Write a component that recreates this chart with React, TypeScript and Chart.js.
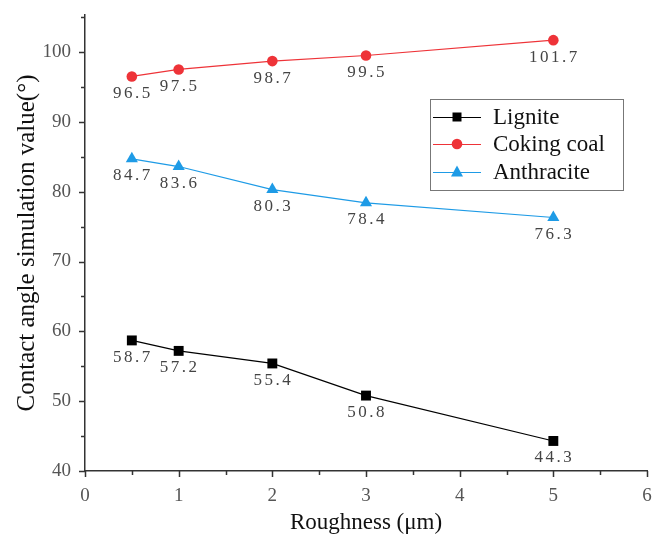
import React, { useEffect, useRef } from "react";
import { Chart, registerables } from "chart.js";

Chart.register(...registerables);

const roughness = [0.5, 1, 2, 3, 5];
const lignite = [58.7, 57.2, 55.4, 50.8, 44.3];
const cokingCoal = [96.5, 97.5, 98.7, 99.5, 101.7];
const anthracite = [84.7, 83.6, 80.3, 78.4, 76.3];
const seriesNames = ["Lignite", "Coking coal", "Anthracite"];
const seriesColors = ["#000000", "#ee3338", "#1e9be6"];
const seriesMarkers = ["rect", "circle", "triangle"];
const xTicks = [0, 1, 2, 3, 4, 5, 6];
const xMinorTicks = [0.5, 1.5, 2.5, 3.5, 4.5, 5.5];
const yTicks = [40, 50, 60, 70, 80, 90, 100];
const yMinorTicks = [45, 55, 65, 75, 85, 95, 105];

const SERIF = "'Liberation Serif', 'Times New Roman', serif";

function drawMarker(ctx: CanvasRenderingContext2D, kind: string, x: number, y: number, color: string) {
  ctx.save();
  ctx.fillStyle = color;
  ctx.beginPath();
  if (kind === "rect") {
    ctx.rect(x - 4.5, y - 4.5, 9, 9);
  } else if (kind === "circle") {
    ctx.arc(x, y, 5.3, 0, Math.PI * 2);
  } else {
    ctx.moveTo(x, y - 6.5);
    ctx.lineTo(x + 6, y + 4.5);
    ctx.lineTo(x - 6, y + 4.5);
    ctx.closePath();
  }
  ctx.fill();
  ctx.restore();
}

const overlayPlugin = {
  id: "overlay",
  afterDraw(chart: any) {
    const ctx: CanvasRenderingContext2D = chart.ctx;
    const xs = chart.scales.x;
    const ys = chart.scales.y;
    const area = chart.chartArea;
    ctx.save();
    // tick marks
    ctx.strokeStyle = "#333";
    ctx.lineWidth = 1.5;
    ctx.beginPath();
    xTicks.forEach((v) => {
      const px = Math.round(xs.getPixelForValue(v)) + 0.5;
      ctx.moveTo(px, area.bottom);
      ctx.lineTo(px, area.bottom + 6);
    });
    xMinorTicks.forEach((v) => {
      const px = Math.round(xs.getPixelForValue(v)) + 0.5;
      ctx.moveTo(px, area.bottom);
      ctx.lineTo(px, area.bottom + 4);
    });
    yTicks.forEach((v) => {
      const py = Math.round(ys.getPixelForValue(v)) + 0.5;
      ctx.moveTo(area.left, py);
      ctx.lineTo(area.left - 6, py);
    });
    yMinorTicks.forEach((v) => {
      if (v > ys.max) return;
      const py = Math.round(ys.getPixelForValue(v)) + 0.5;
      ctx.moveTo(area.left, py);
      ctx.lineTo(area.left - 4, py);
    });
    ctx.stroke();

    // data labels
    ctx.font = `17px ${SERIF}`;
    (ctx as any).letterSpacing = "2.5px";
    ctx.fillStyle = "#444";
    ctx.textAlign = "center";
    ctx.textBaseline = "middle";
    chart.data.datasets.forEach((ds: any) => {
      ds.data.forEach((p: any) => {
        const px = xs.getPixelForValue(p.x);
        const py = ys.getPixelForValue(p.y);
        ctx.fillText(p.y.toFixed(1), px + 1, py + 17);
      });
    });
    (ctx as any).letterSpacing = "0px";

    // legend
    const lx = 430, ly = 99, lw = 193, lh = 91;
    ctx.fillStyle = "#fff";
    ctx.fillRect(lx, ly, lw, lh);
    ctx.strokeStyle = "#777";
    ctx.lineWidth = 1;
    ctx.strokeRect(lx + 0.5, ly + 0.5, lw, lh);
    const rows = [117, 144, 172];
    ctx.font = `23px ${SERIF}`;
    ctx.textAlign = "left";
    ctx.textBaseline = "middle";
    seriesNames.forEach((name, i) => {
      const ry = rows[i];
      ctx.strokeStyle = seriesColors[i];
      ctx.lineWidth = 1;
      ctx.beginPath();
      ctx.moveTo(433, ry + 0.5);
      ctx.lineTo(481, ry + 0.5);
      ctx.stroke();
      drawMarker(ctx, seriesMarkers[i], 457, ry, seriesColors[i]);
      ctx.fillStyle = "#111";
      ctx.fillText(name, 493, ry + 1);
    });
    ctx.restore();
  },
};

export default function App() {
  const ref = useRef<HTMLCanvasElement>(null);
  useEffect(() => {
    document.body.style.margin = "0";
    const mk = (ys: number[]) => roughness.map((x, i) => ({ x, y: ys[i] }));
    const allData = [lignite, cokingCoal, anthracite];
    const chart = new Chart(ref.current!, {
      type: "line",
      data: {
        datasets: seriesNames.map((name, i) => ({
          label: name,
          data: mk(allData[i]),
          borderColor: seriesColors[i],
          backgroundColor: seriesColors[i],
          borderWidth: 1.2,
          pointStyle: seriesMarkers[i] as any,
          pointRadius: i === 0 ? 7 : i === 1 ? 5.3 : 7,
          pointBorderWidth: 0,
          tension: 0,
        })),
      },
      options: {
        animation: false,
        responsive: false,
        layout: { padding: { top: 15, right: 4, left: 0, bottom: 0 } },
        plugins: { legend: { display: false }, tooltip: { enabled: false } },
        scales: {
          x: {
            type: "linear",
            min: 0,
            max: 6,
            grid: { display: false, drawTicks: false },
            border: { display: true, color: "#333", width: 1.5 },
            afterBuildTicks: (s: any) => {
              s.ticks = xTicks.map((v) => ({ value: v }));
            },
            afterFit: (s: any) => {
              s.height = 70;
              s.paddingLeft = 0;
              s.paddingRight = 0;
            },
            ticks: {
              padding: 14,
              color: "#555",
              font: { family: SERIF, size: 19 },
              maxRotation: 0,
              callback: (v: any) => String(v),
            },
            title: {
              display: true,
              text: "Roughness (μm)",
              color: "#111",
              font: { family: SERIF, size: 23 },
              padding: { top: 0, bottom: 4 },
            },
          },
          y: {
            type: "linear",
            min: 40,
            max: 105.3,
            grid: { display: false, drawTicks: false },
            border: { display: true, color: "#333", width: 1.5 },
            afterBuildTicks: (s: any) => {
              s.ticks = yTicks.map((v) => ({ value: v }));
            },
            afterFit: (s: any) => {
              s.width = 85;
              s.paddingTop = 0;
              s.paddingBottom = 0;
            },
            ticks: {
              padding: 14,
              color: "#555",
              font: { family: SERIF, size: 19 },
              callback: (v: any) => String(v),
            },
            title: {
              display: true,
              text: "Contact angle simulation value(°)",
              color: "#111",
              font: { family: SERIF, size: 25 },
              padding: { top: 12, bottom: 0 },
            },
          },
        },
      },
      plugins: [overlayPlugin],
    });
    return () => chart.destroy();
  }, []);
  return <canvas ref={ref} width={654} height={541} style={{ display: "block" }} />;
}
